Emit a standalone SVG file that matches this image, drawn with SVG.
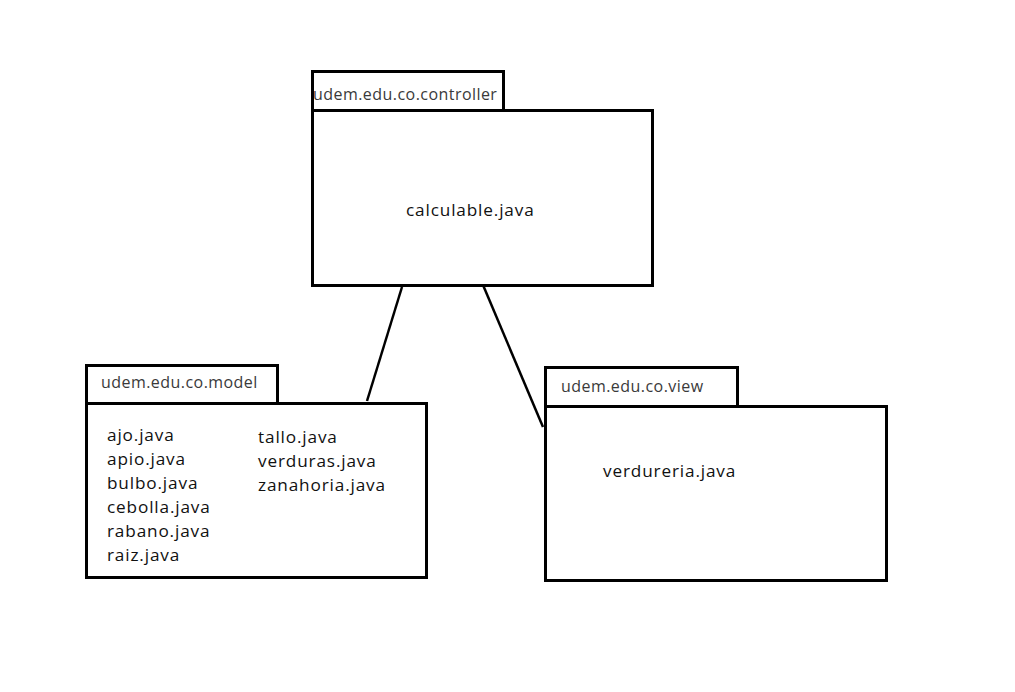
<svg xmlns="http://www.w3.org/2000/svg" width="1015" height="692" viewBox="0 0 1015 692">
<style>
.box{fill:#fff;stroke:#000;stroke-width:3}
.lbl{font-family:"Open Sans","Noto Sans",sans-serif;font-size:16px;letter-spacing:0.45px;fill:#3a3a3a}
.f{font-family:"Open Sans","Noto Sans",sans-serif;font-size:17.2px;letter-spacing:0.85px;fill:#111}
.c{stroke:#000;stroke-width:2.5;fill:none}
</style>
<rect width="1015" height="692" fill="#fff"/>
<g id="connectors">
<line class="c" x1="402" y1="287" x2="367" y2="401"/>
<line class="c" x1="483" y1="285" x2="543" y2="427"/>
</g>
<g id="controller">
<rect class="box" x="312.5" y="71.5" width="191" height="39"/>
<rect class="box" x="312.5" y="110.5" width="340" height="175"/>
<text class="lbl" x="313" y="100">udem.edu.co.controller</text>
<text class="f" x="406" y="216">calculable.java</text>
</g>
<g id="model">
<rect class="box" x="86.5" y="365.5" width="191" height="38"/>
<rect class="box" x="86.5" y="403.5" width="340" height="174"/>
<text class="lbl" x="101" y="388">udem.edu.co.model</text>
<text class="f" x="107" y="441">ajo.java</text>
<text class="f" x="107" y="465">apio.java</text>
<text class="f" x="107" y="489">bulbo.java</text>
<text class="f" x="107" y="513">cebolla.java</text>
<text class="f" x="107" y="537">rabano.java</text>
<text class="f" x="107" y="561">raiz.java</text>
<text class="f" x="258" y="443">tallo.java</text>
<text class="f" x="258" y="467">verduras.java</text>
<text class="f" x="258" y="491">zanahoria.java</text>
</g>
<g id="view">
<rect class="box" x="545.5" y="367.5" width="192" height="40"/>
<rect class="box" x="545.5" y="406.5" width="341" height="174"/>
<text class="lbl" x="561" y="392">udem.edu.co.view</text>
<text class="f" x="603" y="477">verdureria.java</text>
</g>
</svg>
